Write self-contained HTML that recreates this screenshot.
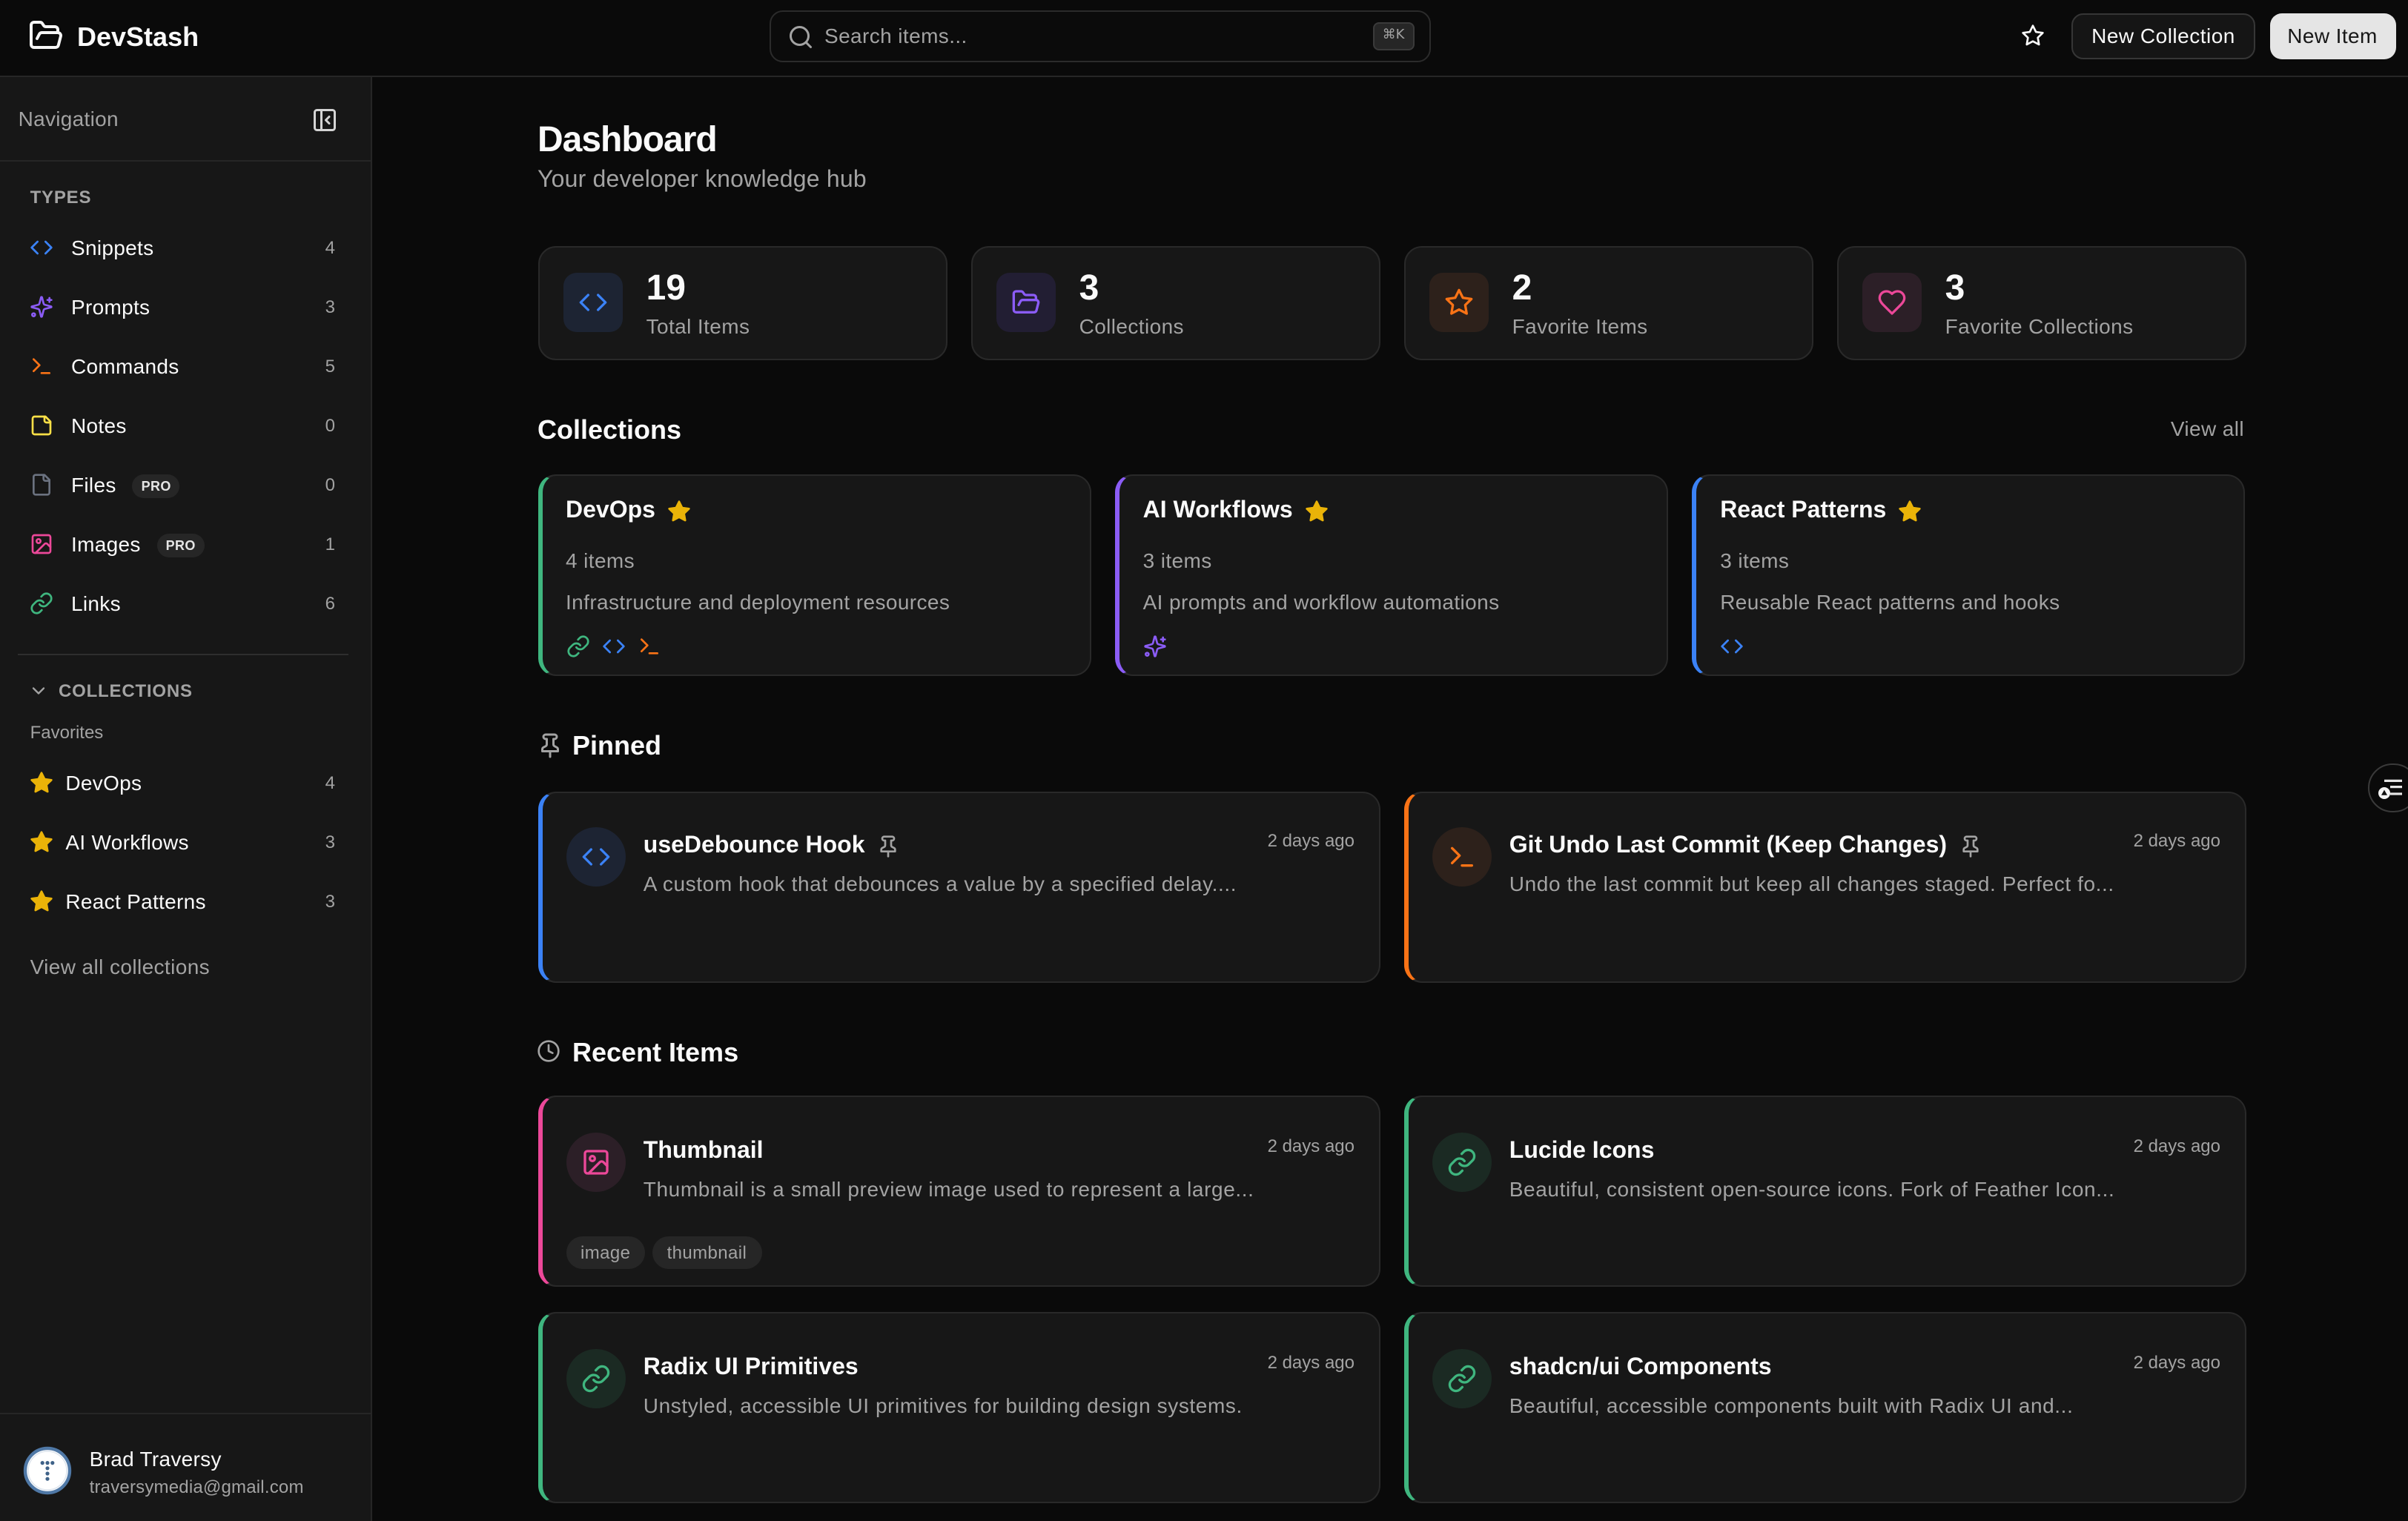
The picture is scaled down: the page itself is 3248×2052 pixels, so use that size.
<!DOCTYPE html>
<html><head><meta charset="utf-8"><style>
html,body{margin:0;padding:0;width:3248px;height:2052px;overflow:hidden;background:#0a0a0a;}
#root{position:absolute;left:0;top:0;width:1624px;height:1026px;transform:scale(2);transform-origin:0 0;font-family:"Liberation Sans",Arial,sans-serif;color:#fafafa;background:#0a0a0a;overflow:hidden;}
.a{position:absolute;}
svg.i{position:absolute;overflow:visible;}
.row{position:absolute;left:0;width:250px;height:36px;line-height:36px;font-size:14px;color:#fafafa;white-space:nowrap;letter-spacing:0.15px;}
.row .ic{position:absolute;left:19.5px;top:10px;width:16px;height:16px;}
.row .tx{position:absolute;left:48px;top:0;}
.row .ct{position:absolute;right:24px;top:0;font-size:12px;color:#a3a3a3;letter-spacing:0;}
.pro{display:inline-block;margin-left:11px;height:16px;line-height:16px;padding:0 6px;border-radius:8px;background:#262626;font-size:9px;font-weight:700;color:#e5e5e5;vertical-align:1px;letter-spacing:0.2px;}
.card{position:absolute;box-sizing:border-box;background:#171717;border:1px solid #292929;border-radius:12px;}
.stat{top:165.5px;height:77px;width:276px;}
.stat .box{position:absolute;left:16.5px;top:17.7px;width:40px;height:40px;border-radius:9px;}
.stat .box svg{position:absolute;left:10px;top:10px;}
.stat .num{position:absolute;left:72.3px;top:14.5px;line-height:28px;font-size:24px;font-weight:700;}
.stat .lbl{position:absolute;left:72.3px;top:43.5px;line-height:20px;font-size:14px;color:#a3a3a3;white-space:nowrap;letter-spacing:0.2px;}
.h2{position:absolute;left:362.5px;font-size:18px;font-weight:700;line-height:28px;white-space:nowrap;}
.coll{top:319.5px;height:136.5px;width:373.3px;border-left-width:3px;}
.coll .t{position:absolute;left:16px;top:12.3px;line-height:24px;font-size:16px;font-weight:700;display:flex;align-items:center;white-space:nowrap;}
.coll .t svg{margin-left:8px;}
.coll .n{position:absolute;left:16px;top:47.5px;line-height:20px;font-size:14px;color:#a3a3a3;letter-spacing:0.2px;}
.coll .d{position:absolute;left:16px;top:75.3px;line-height:20px;font-size:14px;color:#a3a3a3;white-space:nowrap;letter-spacing:0.2px;}
.coll .ics{position:absolute;left:16px;top:107.8px;display:flex;gap:8px;}
.item{height:129px;width:568px;border-left-width:3px;}
.item .cir{position:absolute;left:16px;top:23.5px;width:40px;height:40px;border-radius:50%;}
.item .cir svg{position:absolute;left:10px;top:10px;}
.item .t{position:absolute;left:68.4px;top:24.5px;line-height:24px;font-size:16px;font-weight:700;display:flex;align-items:center;white-space:nowrap;}
.item .t svg{margin-left:8px;}
.item .d{position:absolute;left:68.4px;top:51.5px;line-height:20px;font-size:14px;color:#a3a3a3;white-space:nowrap;letter-spacing:0.3px;}
.item .tm{position:absolute;right:16px;top:24.5px;line-height:16px;font-size:12px;color:#a3a3a3;white-space:nowrap;}
.item .tags{position:absolute;left:16px;top:93.6px;display:flex;gap:4.6px;}
.tag{height:22px;line-height:22px;padding:0 10px;border-radius:11px;background:#262626;font-size:12px;color:#a3a3a3;letter-spacing:0.2px;}
</style></head><body><div id="root">
<svg width="0" height="0" style="position:absolute">
<symbol id="code" viewBox="0 0 24 24"><polyline points="16 18 22 12 16 6"/><polyline points="8 6 2 12 8 18"/></symbol>
<symbol id="spark" viewBox="0 0 24 24"><path d="M9.937 15.5A2 2 0 0 0 8.5 14.063l-6.135-1.582a.5.5 0 0 1 0-.962L8.5 9.936A2 2 0 0 0 9.937 8.5l1.582-6.135a.5.5 0 0 1 .963 0L14.063 8.5A2 2 0 0 0 15.5 9.937l6.135 1.581a.5.5 0 0 1 0 .964L15.5 14.063a2 2 0 0 0-1.437 1.437l-1.582 6.135a.5.5 0 0 1-.963 0z"/><path d="M20 3v4"/><path d="M22 5h-4"/><circle cx="4" cy="20" r="1.5"/></symbol>
<symbol id="term" viewBox="0 0 24 24"><polyline points="4 17 10 11 4 5"/><line x1="12" x2="20" y1="19" y2="19"/></symbol>
<symbol id="note" viewBox="0 0 24 24"><path d="M16 3H5a2 2 0 0 0-2 2v14a2 2 0 0 0 2 2h14a2 2 0 0 0 2-2V8Z"/><path d="M15 3v4a2 2 0 0 0 2 2h4"/></symbol>
<symbol id="file" viewBox="0 0 24 24"><path d="M15 2H6a2 2 0 0 0-2 2v16a2 2 0 0 0 2 2h12a2 2 0 0 0 2-2V7Z"/><path d="M14 2v4a2 2 0 0 0 2 2h4"/></symbol>
<symbol id="img" viewBox="0 0 24 24"><rect width="18" height="18" x="3" y="3" rx="2" ry="2"/><circle cx="9" cy="9" r="2"/><path d="m21 15-3.086-3.086a2 2 0 0 0-2.828 0L6 21"/></symbol>
<symbol id="link" viewBox="0 0 24 24"><path d="M10 13a5 5 0 0 0 7.54.54l3-3a5 5 0 0 0-7.07-7.07l-1.72 1.71"/><path d="M14 11a5 5 0 0 0-7.54-.54l-3 3a5 5 0 0 0 7.07 7.07l1.71-1.71"/></symbol>
<symbol id="star" viewBox="0 0 24 24"><polygon points="12 2 15.09 8.26 22 9.27 17 14.14 18.18 21.02 12 17.77 5.82 21.02 7 14.14 2 9.27 8.91 8.26 12 2"/></symbol>
<symbol id="folder" viewBox="0 0 24 24"><path d="m6 14 1.5-2.9A2 2 0 0 1 9.24 10H20a2 2 0 0 1 1.94 2.5l-1.54 6a2 2 0 0 1-1.950 1.5H4a2 2 0 0 1-2-2V5a2 2 0 0 1 2-2h3.9a2 2 0 0 1 1.69.9l.81 1.2a2 2 0 0 0 1.67.9H18a2 2 0 0 1 2 2v2"/></symbol>
<symbol id="heart" viewBox="0 0 24 24"><path d="M19 14c1.49-1.46 3-3.21 3-5.5A5.5 5.5 0 0 0 16.5 3c-1.76 0-3 .5-4.5 2-1.5-1.5-2.74-2-4.5-2A5.5 5.5 0 0 0 2 8.5c0 2.3 1.5 4.050 3 5.5l7 7Z"/></symbol>
<symbol id="pin" viewBox="0 0 24 24"><line x1="12" x2="12" y1="17" y2="22"/><path d="M5 17h14v-1.76a2 2 0 0 0-1.11-1.79l-1.78-.9A2 2 0 0 1 15 10.76V6h1a2 2 0 0 0 0-4H8a2 2 0 0 0 0 4h1v4.76a2 2 0 0 1-1.11 1.79l-1.78.9A2 2 0 0 0 5 15.24Z"/></symbol>
<symbol id="clock" viewBox="0 0 24 24"><circle cx="12" cy="12" r="10"/><polyline points="12 6 12 12 16 14"/></symbol>
<symbol id="search" viewBox="0 0 24 24"><circle cx="11" cy="11" r="8"/><path d="m21 21-4.3-4.3"/></symbol>
<symbol id="panel" viewBox="0 0 24 24"><rect width="18" height="18" x="3" y="3" rx="2"/><path d="M9 3v18"/><path d="m16 15-3-3 3-3"/></symbol>
<symbol id="chev" viewBox="0 0 24 24"><path d="m6 9 6 6 6-6"/></symbol>
</svg>

<!-- HEADER -->
<div class="a" style="left:0;top:0;width:1624px;height:51px;border-bottom:1px solid #262626;background:#0a0a0a;"></div>
<svg class="i" style="left:19px;top:12px;color:#f5f5f5" width="24" height="24" fill="none" stroke="currentColor" stroke-width="2" stroke-linecap="round" stroke-linejoin="round"><use href="#folder"/></svg>
<div class="a" style="left:52px;top:12px;line-height:26px;font-size:18px;font-weight:700;">DevStash</div>
<div class="a" style="left:519px;top:7px;width:446px;height:35px;box-sizing:border-box;border:1px solid #2b2b2b;border-radius:9px;background:#0b0b0b;"></div>
<svg class="i" style="left:530.5px;top:16px;color:#a3a3a3" width="18" height="18" fill="none" stroke="currentColor" stroke-width="2" stroke-linecap="round" stroke-linejoin="round"><use href="#search"/></svg>
<div class="a" style="left:556px;top:14px;line-height:20px;font-size:14px;color:#a3a3a3;letter-spacing:0.2px;">Search items...</div>
<div class="a" style="left:926px;top:14.7px;width:27.5px;height:19.5px;box-sizing:border-box;border:1px solid #3a3a3a;border-radius:4px;background:#262626;font-family:'DejaVu Sans','Liberation Sans',sans-serif;font-size:9px;line-height:17.5px;text-align:center;color:#a3a3a3;">⌘K</div>
<svg class="i" style="left:1362.5px;top:16.2px;color:#fafafa" width="16" height="16" fill="none" stroke="currentColor" stroke-width="2" stroke-linecap="round" stroke-linejoin="round"><use href="#star"/></svg>
<div class="a" style="left:1397px;top:8.75px;width:124px;height:31.5px;box-sizing:border-box;border:1px solid #363636;border-radius:8px;background:#151515;font-size:14px;line-height:29.5px;text-align:center;letter-spacing:0.25px;">New Collection</div>
<div class="a" style="left:1530.5px;top:8.75px;width:85px;height:31.5px;border-radius:8px;background:#e5e5e5;color:#171717;font-size:14px;line-height:31.5px;text-align:center;letter-spacing:0.2px;">New Item</div>

<!-- SIDEBAR -->
<div class="a" style="left:0;top:52px;width:250px;height:974px;background:#171717;border-right:1px solid #262626;"></div>
<div class="a" style="left:12.3px;top:70.3px;line-height:20px;font-size:14px;color:#a3a3a3;letter-spacing:0.15px;">Navigation</div>
<svg class="i" style="left:209.5px;top:71.5px;color:#d4d4d4" width="18" height="18" fill="none" stroke="currentColor" stroke-width="2" stroke-linecap="round" stroke-linejoin="round"><use href="#panel"/></svg>
<div class="a" style="left:0;top:108px;width:250px;height:1px;background:#262626;"></div>
<div class="a" style="left:20.3px;top:125px;line-height:16px;font-size:12px;font-weight:700;letter-spacing:0.4px;color:#a3a3a3;">TYPES</div>

<div class="row" style="top:148.8px"><svg class="ic" style="color:#3b82f6" fill="none" stroke="currentColor" stroke-width="2" stroke-linecap="round" stroke-linejoin="round"><use href="#code"/></svg><span class="tx">Snippets</span><span class="ct">4</span></div>
<div class="row" style="top:188.8px"><svg class="ic" style="color:#8b5cf6" fill="none" stroke="currentColor" stroke-width="2" stroke-linecap="round" stroke-linejoin="round"><use href="#spark"/></svg><span class="tx">Prompts</span><span class="ct">3</span></div>
<div class="row" style="top:228.8px"><svg class="ic" style="color:#f97316" fill="none" stroke="currentColor" stroke-width="2" stroke-linecap="round" stroke-linejoin="round"><use href="#term"/></svg><span class="tx">Commands</span><span class="ct">5</span></div>
<div class="row" style="top:268.8px"><svg class="ic" style="color:#fde047" fill="none" stroke="currentColor" stroke-width="2" stroke-linecap="round" stroke-linejoin="round"><use href="#note"/></svg><span class="tx">Notes</span><span class="ct">0</span></div>
<div class="row" style="top:308.8px"><svg class="ic" style="color:#6b7280" fill="none" stroke="currentColor" stroke-width="2" stroke-linecap="round" stroke-linejoin="round"><use href="#file"/></svg><span class="tx">Files<span class="pro">PRO</span></span><span class="ct">0</span></div>
<div class="row" style="top:348.8px"><svg class="ic" style="color:#ec4899" fill="none" stroke="currentColor" stroke-width="2" stroke-linecap="round" stroke-linejoin="round"><use href="#img"/></svg><span class="tx">Images<span class="pro">PRO</span></span><span class="ct">1</span></div>
<div class="row" style="top:388.8px"><svg class="ic" style="color:#3fb67f" fill="none" stroke="currentColor" stroke-width="2" stroke-linecap="round" stroke-linejoin="round"><use href="#link"/></svg><span class="tx">Links</span><span class="ct">6</span></div>

<div class="a" style="left:12.3px;top:441px;width:222.7px;height:1px;background:#2e2e2e;"></div>
<svg class="i" style="left:18.5px;top:459px;color:#a3a3a3" width="14" height="14" fill="none" stroke="currentColor" stroke-width="2" stroke-linecap="round" stroke-linejoin="round"><use href="#chev"/></svg>
<div class="a" style="left:39.5px;top:458.3px;line-height:16px;font-size:12px;font-weight:700;letter-spacing:0.4px;color:#a3a3a3;">COLLECTIONS</div>
<div class="a" style="left:20.3px;top:486.4px;line-height:16px;font-size:12px;color:#a3a3a3;">Favorites</div>

<div class="row" style="top:510.2px"><svg class="ic" style="color:#eab308;left:19.5px" fill="currentColor" stroke="currentColor" stroke-width="2" stroke-linecap="round" stroke-linejoin="round"><use href="#star"/></svg><span class="tx" style="left:44.2px">DevOps</span><span class="ct">4</span></div>
<div class="row" style="top:550px"><svg class="ic" style="color:#eab308;left:19.5px" fill="currentColor" stroke="currentColor" stroke-width="2" stroke-linecap="round" stroke-linejoin="round"><use href="#star"/></svg><span class="tx" style="left:44.2px">AI Workflows</span><span class="ct">3</span></div>
<div class="row" style="top:590px"><svg class="ic" style="color:#eab308;left:19.5px" fill="currentColor" stroke="currentColor" stroke-width="2" stroke-linecap="round" stroke-linejoin="round"><use href="#star"/></svg><span class="tx" style="left:44.2px">React Patterns</span><span class="ct">3</span></div>

<div class="a" style="left:20.3px;top:642px;line-height:20px;font-size:14px;color:#a3a3a3;letter-spacing:0.2px;">View all collections</div>

<div class="a" style="left:0;top:952.5px;width:250px;height:1px;background:#262626;"></div>
<svg class="i" style="left:16px;top:976px" width="32" height="32" viewBox="0 0 32 32">
<circle cx="16" cy="16" r="15" fill="#ffffff" stroke="#4f78a6" stroke-width="2.2"/>
<circle cx="16" cy="16" r="13" fill="none" stroke="#dfe6ee" stroke-width="0.8"/>
<g fill="#3f6288"><circle cx="12.6" cy="10.8" r="1.3"/><circle cx="16" cy="10.8" r="1.3"/><circle cx="19.4" cy="10.8" r="1.3"/><circle cx="16" cy="14.4" r="1.3"/><circle cx="16" cy="18" r="1.3"/><circle cx="16" cy="21.6" r="1.3"/></g>
</svg>
<div class="a" style="left:60.3px;top:974.4px;line-height:20px;font-size:14px;color:#fafafa;letter-spacing:0.15px;">Brad Traversy</div>
<div class="a" style="left:60.3px;top:994.5px;line-height:16px;font-size:12px;color:#a3a3a3;letter-spacing:0.1px;">traversymedia@gmail.com</div>

<!-- MAIN -->
<div class="a" style="left:362.5px;top:78.5px;line-height:32px;font-size:24px;font-weight:700;letter-spacing:-0.5px;">Dashboard</div>
<div class="a" style="left:362.5px;top:109.5px;line-height:24px;font-size:16px;color:#a3a3a3;letter-spacing:0.1px;">Your developer knowledge hub</div>

<div class="card stat" style="left:362.5px"><div class="box" style="background:#1d2433"><svg width="20" height="20" style="color:#3b82f6" fill="none" stroke="currentColor" stroke-width="2" stroke-linecap="round" stroke-linejoin="round"><use href="#code"/></svg></div><div class="num">19</div><div class="lbl">Total Items</div></div>
<div class="card stat" style="left:654.5px"><div class="box" style="background:#221e33"><svg width="20" height="20" style="color:#8b5cf6" fill="none" stroke="currentColor" stroke-width="2" stroke-linecap="round" stroke-linejoin="round"><use href="#folder"/></svg></div><div class="num">3</div><div class="lbl">Collections</div></div>
<div class="card stat" style="left:946.5px"><div class="box" style="background:#2d211b"><svg width="20" height="20" style="color:#f97316" fill="none" stroke="currentColor" stroke-width="2" stroke-linecap="round" stroke-linejoin="round"><use href="#star"/></svg></div><div class="num">2</div><div class="lbl">Favorite Items</div></div>
<div class="card stat" style="left:1238.5px"><div class="box" style="background:#2c1f27"><svg width="20" height="20" style="color:#ec4899" fill="none" stroke="currentColor" stroke-width="2" stroke-linecap="round" stroke-linejoin="round"><use href="#heart"/></svg></div><div class="num">3</div><div class="lbl">Favorite Collections</div></div>

<div class="h2" style="top:275.5px">Collections</div>
<div class="a" style="right:110.5px;top:279px;line-height:20px;font-size:14px;color:#a3a3a3;letter-spacing:0.2px;">View all</div>

<div class="card coll" style="left:362.5px;border-left-color:#3fb67f"><div class="t">DevOps<svg width="16" height="16" style="color:#eab308" fill="currentColor" stroke="currentColor" stroke-width="2" stroke-linejoin="round"><use href="#star"/></svg></div><div class="n">4 items</div><div class="d">Infrastructure and deployment resources</div><div class="ics"><svg width="16" height="16" style="color:#3fb67f" fill="none" stroke="currentColor" stroke-width="2" stroke-linecap="round" stroke-linejoin="round"><use href="#link"/></svg><svg width="16" height="16" style="color:#3b82f6" fill="none" stroke="currentColor" stroke-width="2" stroke-linecap="round" stroke-linejoin="round"><use href="#code"/></svg><svg width="16" height="16" style="color:#f97316" fill="none" stroke="currentColor" stroke-width="2" stroke-linecap="round" stroke-linejoin="round"><use href="#term"/></svg></div></div>
<div class="card coll" style="left:751.8px;border-left-color:#8b5cf6"><div class="t">AI Workflows<svg width="16" height="16" style="color:#eab308" fill="currentColor" stroke="currentColor" stroke-width="2" stroke-linejoin="round"><use href="#star"/></svg></div><div class="n">3 items</div><div class="d">AI prompts and workflow automations</div><div class="ics"><svg width="16" height="16" style="color:#8b5cf6" fill="none" stroke="currentColor" stroke-width="2" stroke-linecap="round" stroke-linejoin="round"><use href="#spark"/></svg></div></div>
<div class="card coll" style="left:1141.1px;border-left-color:#3b82f6"><div class="t">React Patterns<svg width="16" height="16" style="color:#eab308" fill="currentColor" stroke="currentColor" stroke-width="2" stroke-linejoin="round"><use href="#star"/></svg></div><div class="n">3 items</div><div class="d">Reusable React patterns and hooks</div><div class="ics"><svg width="16" height="16" style="color:#3b82f6" fill="none" stroke="currentColor" stroke-width="2" stroke-linecap="round" stroke-linejoin="round"><use href="#code"/></svg></div></div>

<svg class="i" style="left:362px;top:494px;color:#a3a3a3" width="18" height="18" fill="none" stroke="currentColor" stroke-width="2" stroke-linecap="round" stroke-linejoin="round"><use href="#pin"/></svg>
<div class="h2" style="left:386px;top:489px">Pinned</div>

<div class="card item" style="left:362.5px;top:533.5px;border-left-color:#3b82f6"><div class="cir" style="background:#1d2433"><svg width="20" height="20" style="color:#3b82f6" fill="none" stroke="currentColor" stroke-width="2" stroke-linecap="round" stroke-linejoin="round"><use href="#code"/></svg></div><div class="t">useDebounce Hook<svg width="16" height="16" style="color:#a3a3a3" fill="none" stroke="currentColor" stroke-width="2" stroke-linecap="round" stroke-linejoin="round"><use href="#pin"/></svg></div><div class="d">A custom hook that debounces a value by a specified delay....</div><div class="tm">2 days ago</div></div>
<div class="card item" style="left:946.5px;top:533.5px;border-left-color:#f97316"><div class="cir" style="background:#2d211b"><svg width="20" height="20" style="color:#f97316" fill="none" stroke="currentColor" stroke-width="2" stroke-linecap="round" stroke-linejoin="round"><use href="#term"/></svg></div><div class="t">Git Undo Last Commit (Keep Changes)<svg width="16" height="16" style="color:#a3a3a3" fill="none" stroke="currentColor" stroke-width="2" stroke-linecap="round" stroke-linejoin="round"><use href="#pin"/></svg></div><div class="d">Undo the last commit but keep all changes staged. Perfect fo...</div><div class="tm">2 days ago</div></div>

<svg class="i" style="left:362.3px;top:701.3px;color:#a3a3a3" width="16" height="16" fill="none" stroke="currentColor" stroke-width="2" stroke-linecap="round" stroke-linejoin="round"><use href="#clock"/></svg>
<div class="h2" style="left:386px;top:695.5px">Recent Items</div>

<div class="card item" style="left:362.5px;top:739.4px;border-left-color:#ec4899"><div class="cir" style="background:#2c1f27"><svg width="20" height="20" style="color:#ec4899" fill="none" stroke="currentColor" stroke-width="2" stroke-linecap="round" stroke-linejoin="round"><use href="#img"/></svg></div><div class="t">Thumbnail</div><div class="d">Thumbnail is a small preview image used to represent a large...</div><div class="tm">2 days ago</div><div class="tags"><span class="tag">image</span><span class="tag">thumbnail</span></div></div>
<div class="card item" style="left:946.5px;top:739.4px;border-left-color:#3fb67f"><div class="cir" style="background:#1b2a23"><svg width="20" height="20" style="color:#3fb67f" fill="none" stroke="currentColor" stroke-width="2" stroke-linecap="round" stroke-linejoin="round"><use href="#link"/></svg></div><div class="t">Lucide Icons</div><div class="d">Beautiful, consistent open-source icons. Fork of Feather Icon...</div><div class="tm">2 days ago</div></div>
<div class="card item" style="left:362.5px;top:885.4px;border-left-color:#3fb67f"><div class="cir" style="background:#1b2a23"><svg width="20" height="20" style="color:#3fb67f" fill="none" stroke="currentColor" stroke-width="2" stroke-linecap="round" stroke-linejoin="round"><use href="#link"/></svg></div><div class="t">Radix UI Primitives</div><div class="d">Unstyled, accessible UI primitives for building design systems.</div><div class="tm">2 days ago</div></div>
<div class="card item" style="left:946.5px;top:885.4px;border-left-color:#3fb67f"><div class="cir" style="background:#1b2a23"><svg width="20" height="20" style="color:#3fb67f" fill="none" stroke="currentColor" stroke-width="2" stroke-linecap="round" stroke-linejoin="round"><use href="#link"/></svg></div><div class="t">shadcn/ui Components</div><div class="d">Beautiful, accessible components built with Radix UI and...</div><div class="tm">2 days ago</div></div>

<!-- floating button -->
<div class="a" style="left:1597.3px;top:514.5px;width:33.5px;height:33.5px;box-sizing:border-box;border:1px solid #3a3a3a;border-radius:50%;background:#0a0a0a;"></div>
<svg class="i" style="left:1602px;top:522px" width="22" height="18" viewBox="0 0 22 18">
<line x1="6" y1="4.7" x2="18" y2="4.7" stroke="#e5e5e5" stroke-width="1.6"/>
<line x1="10" y1="8.8" x2="18" y2="8.8" stroke="#e5e5e5" stroke-width="1.6"/>
<line x1="10" y1="13.5" x2="18" y2="13.5" stroke="#e5e5e5" stroke-width="1.6"/>
<circle cx="6" cy="13" r="4" fill="#f5f5f5"/>
<polygon points="6,10.8 8,14.4 4,14.4" fill="#111"/>
</svg>
</div></body></html>
